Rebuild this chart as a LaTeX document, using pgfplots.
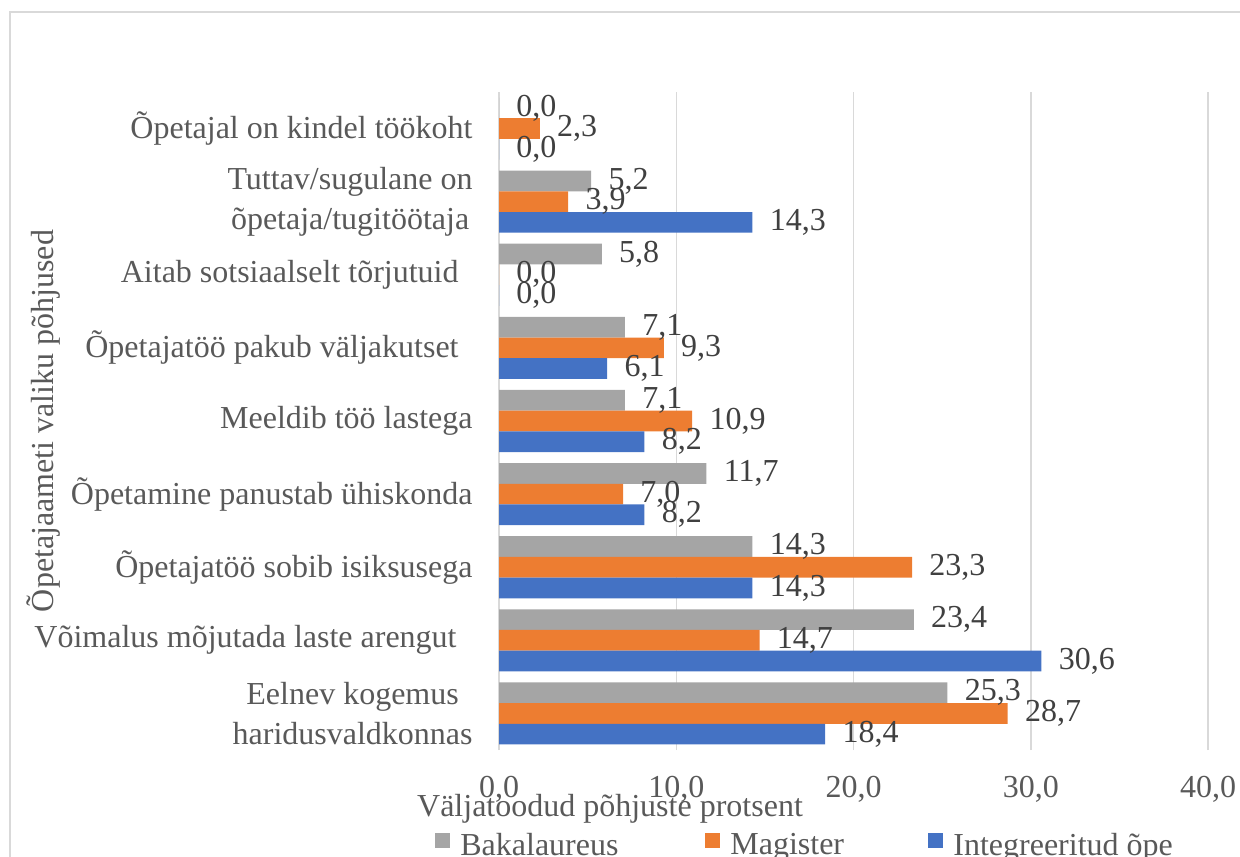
\documentclass[border=0pt]{standalone}
\usepackage{pgfplots}
\pgfplotsset{compat=1.18}
\usepackage{fontspec}
\setmainfont{Liberation Serif}
\definecolor{cgray}{HTML}{A5A5A5}
\definecolor{corange}{HTML}{ED7D31}
\definecolor{cblue}{HTML}{4472C4}
\definecolor{gridc}{HTML}{D9D9D9}
\definecolor{txt}{HTML}{595959}
\definecolor{lbl}{HTML}{404040}
\begin{document}
\begin{tikzpicture}[font=\fontsize{16}{20}\selectfont]
\useasboundingbox (0,0) rectangle (620pt,428pt);
\draw[gridc, line width=1pt] (5pt,-20pt) rectangle (650pt,422pt);
\begin{axis}[
  at={(249.5pt,53pt)}, anchor=south west,
  scale only axis, width=354.5pt, height=329pt,
  xbar, bar width=0.283,
  xmin=0, xmax=40, ymin=-0.5, ymax=8.5,
  enlargelimits=false,
  axis line style={draw=none},
  major tick length=0pt,
  xtick={0,10,20,30,40},
  ytick={0,1,2,3,4,5,6,7,8},
  yticklabels={{Eelnev kogemus\hspace{4pt}\\haridusvaldkonnas},
    {Võimalus mõjutada laste arengut\hspace{8pt}},
    {Õpetajatöö sobib isiksusega},
    {Õpetamine panustab ühiskonda},
    {Meeldib töö lastega},
    {Õpetajatöö pakub väljakutset\hspace{7pt}},
    {Aitab sotsiaalselt tõrjutuid\hspace{7pt}},
    {Tuttav/sugulane on\\õpetaja/tugitöötaja},
    {Õpetajal on kindel töökoht}},
  xmajorgrids, grid style={gridc, line width=0.75pt},
  /pgf/number format/.cd, fixed, fixed zerofill, precision=1, use comma, assume math mode=true,
  /pgfplots/.cd,
  xticklabel style={anchor=base, yshift=-23.5pt, inner sep=0pt, text=txt},
  yticklabel style={anchor=east, xshift=-13pt, inner sep=0pt, align=center, text=txt},
  xlabel={Väljatoodud põhjuste protsent},
  xlabel style={at={(axis description cs:0.1566,-0.1018)}, anchor=base, inner sep=0pt, text=txt},
  ylabel={Õpetajaameti valiku põhjused},
  ylabel style={at={(axis description cs:-0.643,0.5)}, anchor=center, inner sep=0pt, text=txt},
  point meta=x,
  nodes near coords={\pgfmathprintnumber[fixed,fixed zerofill,precision=1,use comma,assume math mode=true]{\pgfplotspointmeta}},
  every node near coord/.append style={anchor=west, inner sep=0pt, xshift=8.5pt, text=lbl, font=\fontsize{16}{20}\selectfont},
  legend columns=3,
  legend style={at={(axis description cs:-0.0903,-0.1453)}, anchor=west, draw=none, fill=none,
    inner sep=0pt, nodes={inner sep=0pt, text=txt}},
  legend image code/.code={\fill[#1] (0pt,-1pt) rectangle (7.5pt,6.5pt);},
]
\addplot[fill=cgray, draw=none, bar shift=0.283] coordinates {
(25.3,0) (23.4,1) (14.3,2) (11.7,3) (7.1,4) (7.1,5) (5.8,6) (5.2,7) (0,8)};
\addlegendentry{\makebox[127.5pt][l]{\hspace{5pt}Bakalaureus}}
\addplot[fill=corange, draw=none, bar shift=0] coordinates {
(28.7,0) (14.7,1) (23.3,2) (7.0,3) (10.9,4) (9.3,5) (0,6) (3.9,7) (2.3,8)};
\addlegendentry{\makebox[104pt][l]{\hspace{5pt}Magister}}
\addplot[fill=cblue, draw=none, bar shift=-0.283] coordinates {
(18.4,0) (30.6,1) (14.3,2) (8.2,3) (8.2,4) (6.1,5) (0,6) (14.3,7) (0,8)};
\addlegendentry{\hspace{5pt}Integreeritud õpe}
\end{axis}
\end{tikzpicture}
\end{document}
